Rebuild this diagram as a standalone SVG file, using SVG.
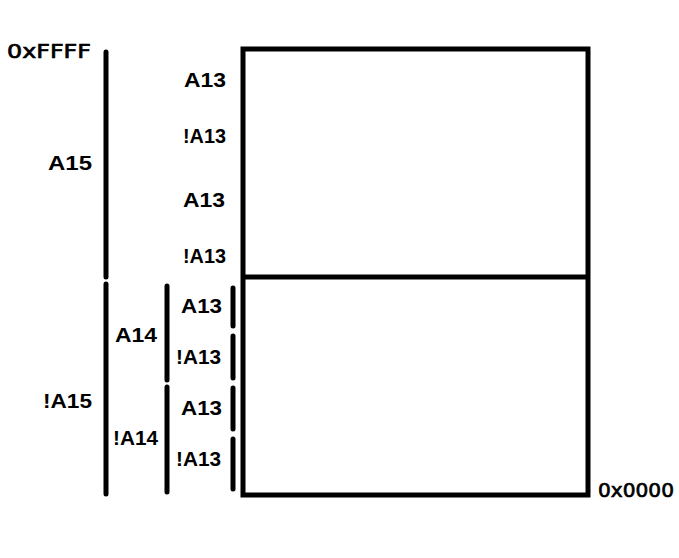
<svg xmlns="http://www.w3.org/2000/svg" width="679" height="558" viewBox="0 0 679 558">
<style>
.bar{stroke:#000;stroke-width:5;stroke-linecap:round;fill:none}
.box{stroke:#000;stroke-width:5;fill:#fff}
.lbl{font-family:"Liberation Sans",Arial,sans-serif;font-weight:bold;font-size:20.5px;fill:#000}
.addr{font-family:"DejaVu Sans",Verdana,sans-serif;font-size:20px;fill:#000;stroke:#000;stroke-width:0.7}
</style>
<rect width="679" height="558" fill="#fff"/>
<g id="memory">
<rect class="box" x="243" y="49" width="345" height="446"/>
<line x1="243" y1="277" x2="588" y2="277" stroke="#000" stroke-width="5"/>
</g>
<g id="addresses">
<text class="addr" x="7" y="58" textLength="84" lengthAdjust="spacingAndGlyphs">0xFFFF</text>
<text class="addr" x="598" y="497" textLength="76" lengthAdjust="spacingAndGlyphs">0x0000</text>
</g>
<g id="connectors">
<line class="bar" x1="106" y1="52" x2="106" y2="277"/>
<line class="bar" x1="106" y1="284" x2="106" y2="494"/>
<line class="bar" x1="167" y1="286" x2="167" y2="380"/>
<line class="bar" x1="167" y1="387" x2="167" y2="492"/>
<line class="bar" x1="233" y1="288" x2="233" y2="326"/>
<line class="bar" x1="233" y1="336" x2="233" y2="378"/>
<line class="bar" x1="233" y1="388" x2="233" y2="429"/>
<line class="bar" x1="233" y1="439" x2="233" y2="489"/>
</g>
<g id="a15">
<text class="lbl" x="48" y="170" textLength="44" lengthAdjust="spacingAndGlyphs">A15</text>
<text class="lbl" x="43" y="408" textLength="49" lengthAdjust="spacingAndGlyphs">!A15</text>
</g>
<g id="a14">
<text class="lbl" x="115" y="342" textLength="42" lengthAdjust="spacingAndGlyphs">A14</text>
<text class="lbl" x="113" y="445" textLength="45" lengthAdjust="spacingAndGlyphs">!A14</text>
</g>
<g id="a13">
<text class="lbl" x="184" y="87" textLength="42" lengthAdjust="spacingAndGlyphs">A13</text>
<text class="lbl" x="183" y="143" textLength="43" lengthAdjust="spacingAndGlyphs">!A13</text>
<text class="lbl" x="183" y="207" textLength="42" lengthAdjust="spacingAndGlyphs">A13</text>
<text class="lbl" x="183" y="263" textLength="43" lengthAdjust="spacingAndGlyphs">!A13</text>
<text class="lbl" x="181" y="313" textLength="41" lengthAdjust="spacingAndGlyphs">A13</text>
<text class="lbl" x="176" y="364" textLength="45" lengthAdjust="spacingAndGlyphs">!A13</text>
<text class="lbl" x="181" y="415" textLength="41" lengthAdjust="spacingAndGlyphs">A13</text>
<text class="lbl" x="176" y="466" textLength="45" lengthAdjust="spacingAndGlyphs">!A13</text>
</g>
</svg>
